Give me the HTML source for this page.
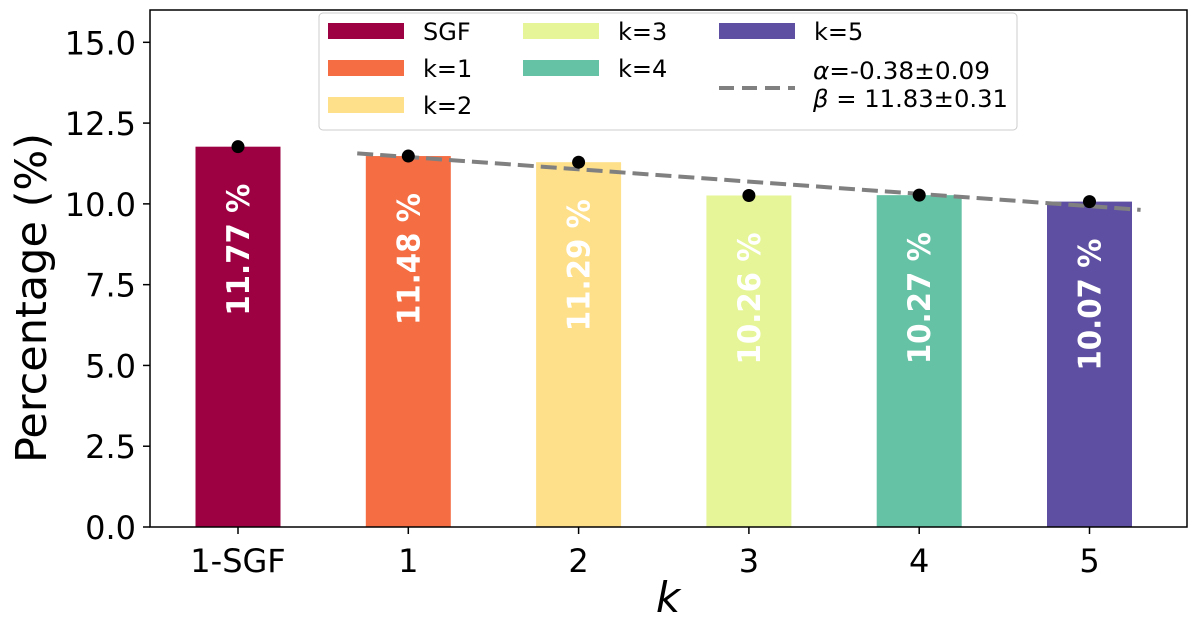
<!DOCTYPE html>
<html><head><meta charset="utf-8"><style>
body{margin:0;background:#fff}
svg{display:block;font-family:"DejaVu Sans","Liberation Sans",sans-serif}
</style></head><body>
<svg id="c" width="1200" height="632"></svg>
<script>
const categories=["1-SGF","1","2","3","4","5"];
const values=[11.77,11.48,11.29,10.26,10.27,10.07];
const labels=["11.77 %","11.48 %","11.29 %","10.26 %","10.27 %","10.07 %"];
const colors=["#9e0142","#f46d43","#fee08b","#e6f598","#66c2a5","#5e4fa2"];
const yTicks=[0,2.5,5,7.5,10,12.5,15];
const fitAlpha=-0.38, fitBeta=11.83;
const fitRange=[0.7,5.3];
const legendNames=["SGF","k=1","k=2","k=3","k=4","k=5"];

const NS="http://www.w3.org/2000/svg";
const svg=document.getElementById('c');
const L=150,R=1187,T=10,B=527;
const xs=i=>238+i*170.3;
const ys=v=>B-(v/16)*(B-T);
function el(t,a,p){const e=document.createElementNS(NS,t);for(const k in a)e.setAttribute(k,a[k]);(p||svg).appendChild(e);return e;}

values.forEach((v,i)=>{
  const r=el('rect',{x:xs(i)-42.5,y:ys(v),width:85,height:B-ys(v),fill:colors[i]});
  
  
});
const fl=el('line',{x1:xs(fitRange[0]),y1:ys(fitAlpha*fitRange[0]+fitBeta),x2:xs(fitRange[1]),y2:ys(fitAlpha*fitRange[1]+fitBeta),stroke:'#808080','stroke-width':4,'stroke-dasharray':'16,7'});


values.forEach((v,i)=>{
  const c=el('circle',{cx:xs(i),cy:ys(v),r:6.5,fill:'#000'});
  
  
  const ty=ys(v)+37, tx=xs(i)+11;
  const t=el('text',{x:tx,y:ty,transform:`rotate(-90 ${tx} ${ty})`,'text-anchor':'end',fill:'#fff','font-size':31,'font-weight':'bold',textLength:132,lengthAdjust:'spacingAndGlyphs'});
  t.textContent=labels[i];
  
  
});
const fr=el('rect',{x:L,y:T,width:R-L,height:B-T,fill:'none',stroke:'#000','stroke-width':1.5});


yTicks.forEach(v=>{
  el('line',{x1:L-7,x2:L,y1:ys(v),y2:ys(v),stroke:'#000','stroke-width':1.5});
  const t=el('text',{x:L-14,y:ys(v)+12,'text-anchor':'end','font-size':32});
  t.textContent=v.toFixed(1);
  
  
});
categories.forEach((c,i)=>{
  el('line',{x1:xs(i),x2:xs(i),y1:B,y2:B+7,stroke:'#000','stroke-width':1.5});
  const t=el('text',{x:xs(i),y:572,'text-anchor':'middle','font-size':32});
  t.textContent=c;
  
  
});
const yt=el('text',{x:46,y:298,transform:`rotate(-90 46 298)`,'text-anchor':'middle','font-size':43});
yt.textContent='Percentage (%)';


const xt=el('text',{x:668,y:612,'text-anchor':'middle','font-size':42,'font-style':'italic'});
xt.textContent='k';


const lg=el('g',{});


el('rect',{x:319,y:13,width:698,height:117,rx:4,fill:'#fff','fill-opacity':0.85,stroke:'#ccc','stroke-width':1},lg);
const pos=[[328,23],[328,60],[328,97],[523,23],[523,60],[719,23]];
legendNames.forEach((n,i)=>{
  const [x,y]=pos[i];
  const s=el('rect',{x:x,y:y,width:76,height:16,fill:colors[i]},lg);
  
  
  const t=el('text',{x:x+95,y:y+17,'font-size':24},lg);
  t.textContent=n;
  
  
});
el('line',{x1:719,x2:795,y1:88,y2:88,stroke:'#808080','stroke-width':4,'stroke-dasharray':'15,8'},lg);
const a1=el('text',{x:813,y:79,'font-size':24,textLength:177,lengthAdjust:'spacingAndGlyphs'},lg);
a1.innerHTML='<tspan font-style="italic">α</tspan>=-0.38±0.09';


const a2=el('text',{x:813,y:107,'font-size':24,textLength:195,lengthAdjust:'spacingAndGlyphs'},lg);
a2.innerHTML='<tspan font-style="italic">β</tspan> = 11.83±0.31';


</script>
</body></html>
